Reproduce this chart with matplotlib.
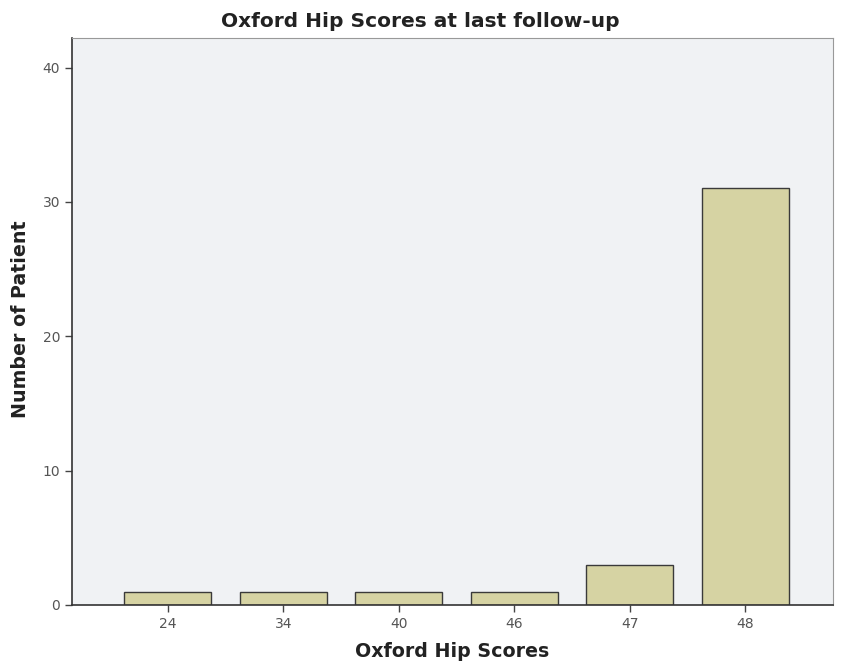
import numpy as np
import matplotlib
matplotlib.use('Agg')
import matplotlib.pyplot as plt

#%% data
scores = ['24', '34', '40', '46', '47', '48']
patients = [1, 1, 1, 1, 3, 31]
yticks = [0, 10, 20, 30, 40]

#%% plot
fig = plt.figure(figsize=(8.42, 6.66), dpi=100)
ax = fig.add_axes([0.0855, 0.0916, 0.9038, 0.8514])
ax.set_facecolor('#f0f2f4')

x = np.arange(len(scores))
ax.bar(x, patients, width=0.753, color='#d6d3a3', edgecolor='#3a3a3a', linewidth=1.0)

ax.set_xlim(-0.83, 5.76)
ax.set_ylim(0, 42.2)
ax.set_xticks(x)
ax.set_xticklabels(scores)
ax.set_yticks(yticks)
ax.tick_params(axis='both', direction='out', length=5, width=1, color='#444444',
               labelcolor='#555555', labelsize=10)

for s in ['left', 'bottom']:
    ax.spines[s].set_color('#333333')
    ax.spines[s].set_linewidth(1.2)
for s in ['top', 'right']:
    ax.spines[s].set_color('#999999')
    ax.spines[s].set_linewidth(0.8)

lab_font = dict(family='DejaVu Sans', fontweight='bold', color='#222222')
fig.text(0.499, 0.967, 'Oxford Hip Scores at last follow-up', ha='center', va='center',
         fontsize=14.5, **lab_font)
fig.text(0.537, 0.0225, 'Oxford Hip Scores', ha='center', va='center', fontsize=13.7, **lab_font)
fig.text(0.024, 0.52, 'Number of Patient', ha='center', va='center', rotation=90,
         fontsize=13.7, **lab_font)

plt.savefig('out.png', dpi=100)
